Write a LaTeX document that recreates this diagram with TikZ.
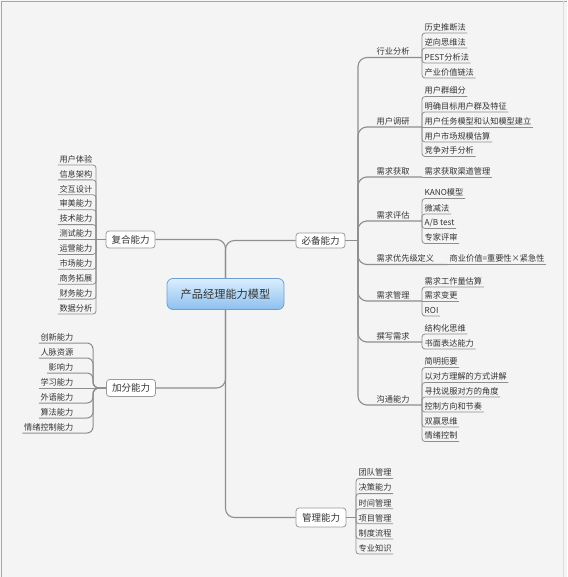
\documentclass[tikz,border=0pt]{standalone}
\usepackage{fontspec}
\setmainfont{Noto Sans CJK SC}
\definecolor{bg}{HTML}{F4F4F4}
\definecolor{lin}{HTML}{8E8E8E}
\definecolor{txt}{HTML}{333333}
\definecolor{boxline}{HTML}{9A9A9A}
\definecolor{frame}{HTML}{A8A8A8}
\definecolor{blueT}{HTML}{DCEEFE}
\definecolor{blueB}{HTML}{8CC0EF}
\definecolor{blueL}{HTML}{6E9FD2}
\tikzset{
  leaf/.style={font=\fontsize{8.2}{9}\selectfont, text=txt, inner xsep=1.5pt, inner ysep=1pt, text height=6.5pt, text depth=1.5pt},
  rleaf/.style={leaf, anchor=south west},
  lleaf/.style={leaf, anchor=south east},
  catnode/.style={leaf, anchor=south west},
  mainbox/.style={draw=boxline, fill=white, rounded corners=3pt, line width=0.8pt, font=\fontsize{9.5}{11}\selectfont, text=txt, inner sep=0pt, minimum width=49pt, minimum height=17pt},
  rootbox/.style={draw=blueL, top color=blueT, bottom color=blueB, rounded corners=6pt, line width=0.8pt, font=\fontsize{11.2}{13}\selectfont, text=txt, inner sep=0pt, minimum width=117pt, minimum height=31pt},
  conn/.style={draw=lin, line width=1.1pt, rounded corners=9pt},
  jconn/.style={draw=lin, line width=1.0pt, rounded corners=6pt},
  lconn/.style={draw=lin, line width=0.8pt, rounded corners=3pt}
}
\begin{document}
\begin{tikzpicture}[x=1pt,y=-1pt]
\useasboundingbox (0,0) rectangle (567,577);
\fill[bg] (0,0) rectangle (567,577);
\draw[frame, line width=1.2pt] (1.5,577) -- (1.5,1.5) -- (567,1.5);
\draw[frame!40, line width=0.8pt] (563,1.5) -- (563,577);

% root and main boxes
\node[rootbox] (root) at (225.5,294) {产品经理能力模型};
\node[mainbox] (fuhe) at (130.5,239.5) {复合能力};
\node[mainbox] (jiafen) at (131,388) {加分能力};
\node[mainbox, minimum height=15pt] (bibei) at (320.5,240.5) {必备能力};
\node[mainbox, minimum height=19pt, minimum width=50pt] (guanli) at (321,517.5) {管理能力};

\draw[conn] (root.north) |- (fuhe.east);
\draw[conn] (root.north) |- (bibei.west);
\draw[conn] (root.south) |- (jiafen.east);
\draw[conn] (root.south) |- (guanli.west);

% ---------- 必备能力 ----------
\coordinate (bsp) at (358,240.5);
\draw[conn] (bibei.east) -- (bsp);

\node[catnode] (c1) at (375,57.5) {行业分析};
\node[catnode] (c2) at (375,127) {用户调研};
\node[catnode] (c3) at (375,177) {需求获取};
\node[catnode] (c4) at (375,221) {需求评估};
\node[catnode] (c5) at (375,264.5) {需求优先级定义};
\node[catnode] (c6) at (375,301) {需求管理};
\node[catnode] (c7) at (375,342) {撰写需求};
\node[catnode] (c8) at (375,405) {沟通能力};

\coordinate (b1) at (422,57.5);
\coordinate (b2) at (422,127);
\coordinate (b3) at (422,177);
\coordinate (b4) at (422,221);
\coordinate (b5) at (447,264.5);
\coordinate (b6) at (422,301);
\coordinate (b7) at (422,342);
\coordinate (b8) at (422,405);

\foreach \i in {1,2,3,4,5,6,7,8}{
  \draw[conn] (bsp) |- (c\i.south west) -- (b\i);
}

% 行业分析
\node[rleaf] (l11) at (423,33) {历史推断法};
\node[rleaf] (l12) at (423,48) {逆向思维法};
\node[rleaf] (l13) at (423,63) {PEST分析法};
\node[rleaf] (l14) at (423,78) {产业价值链法};
\foreach \j in {1,2,3,4}{ \draw[lconn] (b1) |- (l1\j.south east); }

% 用户调研
\node[rleaf] (l21) at (423,96.5) {用户群细分};
\node[rleaf] (l22) at (423,112) {明确目标用户群及特征};
\node[rleaf] (l23) at (423,127) {用户任务模型和认知模型建立};
\node[rleaf] (l24) at (423,142) {用户市场规模估算};
\node[rleaf] (l25) at (423,156.5) {竞争对手分析};
\foreach \j in {1,2,4,5}{ \draw[lconn] (b2) |- (l2\j.south east); }
\draw[lconn] (b2) -- (l23.south east);

% 需求获取
\node[rleaf] (l31) at (423,177) {需求获取渠道管理};
\draw[lconn] (b3) -- (l31.south east);

% 需求评估
\node[rleaf] (l41) at (423,198.5) {KANO模型};
\node[rleaf] (l42) at (423,214) {微减法};
\node[rleaf] (l43) at (423,228.5) {A/B test};
\node[rleaf] (l44) at (423,243.5) {专家评审};
\foreach \j in {1,2,3,4}{ \draw[lconn] (b4) |- (l4\j.south east); }

% 需求优先级定义
\node[rleaf] (l51) at (448,264.5) {商业价值=重要性×紧急性};
\draw[lconn] (b5) -- (l51.south east);

% 需求管理
\node[rleaf] (l61) at (423,287) {需求工作量估算};
\node[rleaf] (l62) at (423,301) {需求变更};
\node[rleaf] (l63) at (423,316) {ROI};
\draw[lconn] (b6) |- (l61.south east);
\draw[lconn] (b6) -- (l62.south east);
\draw[lconn] (b6) |- (l63.south east);

% 撰写需求
\node[rleaf] (l71) at (423,334) {结构化思维};
\node[rleaf] (l72) at (423,349) {书面表达能力};
\foreach \j in {1,2}{ \draw[lconn] (b7) |- (l7\j.south east); }

% 沟通能力
\node[rleaf] (l81) at (423,367.5) {简明扼要};
\node[rleaf] (l82) at (423,382.5) {以对方理解的方式讲解};
\node[rleaf] (l83) at (423,397) {寻找说服对方的角度};
\node[rleaf] (l84) at (423,412) {控制方向和节奏};
\node[rleaf] (l85) at (423,427) {双赢思维};
\node[rleaf] (l86) at (423,441.5) {情绪控制};
\foreach \j in {1,...,6}{ \draw[lconn] (b8) |- (l8\j.south east); }

% ---------- 复合能力 ----------
\coordinate (fsp) at (96,239.5);
\draw[conn] (fuhe.west) -- (fsp);
\node[lleaf] (f1) at (94,165) {用户体验};
\node[lleaf] (f2) at (94,179.9) {信息架构};
\node[lleaf] (f3) at (94,194.8) {交互设计};
\node[lleaf] (f4) at (94,209.7) {审美能力};
\node[lleaf] (f5) at (94,224.6) {技术能力};
\node[lleaf] (f6) at (94,239.5) {测试能力};
\node[lleaf] (f7) at (94,254.4) {运营能力};
\node[lleaf] (f8) at (94,269.3) {市场能力};
\node[lleaf] (f9) at (94,284.2) {商务拓展};
\node[lleaf] (f10) at (94,299.1) {财务能力};
\node[lleaf] (f11) at (94,314) {数据分析};
\foreach \j in {1,2,3,4,5,7,8,9,10,11}{ \draw[lconn] (fsp) |- (f\j.south west); }
\draw[lconn] (fsp) -- (f6.south west);

% ---------- 加分能力 ----------
\coordinate (jsp) at (93,388);
\node[lleaf] (j1) at (75,343) {创新能力};
\node[lleaf] (j2) at (75,358) {人脉资源};
\node[lleaf] (j3) at (75,373) {影响力};
\node[lleaf] (j4) at (75,388) {学习能力};
\node[lleaf] (j5) at (75,403) {外语能力};
\node[lleaf] (j6) at (75,418) {算法能力};
\node[lleaf] (j7) at (75,433) {情绪控制能力};
\foreach \j in {1,2,3,5,6,7}{ \draw[jconn] (jiafen.west) -- (jsp) |- (j\j.south west); }
\draw[jconn] (jiafen.west) -- (j4.south west);

% ---------- 管理能力 ----------
\coordinate (gsp) at (356,517.5);
\draw[conn] (guanli.east) -- (gsp);
\node[rleaf] (g1) at (357,478.5) {团队管理};
\node[rleaf] (g2) at (357,493.6) {决策能力};
\node[rleaf] (g3) at (357,508.7) {时间管理};
\node[rleaf] (g4) at (357,523.8) {项目管理};
\node[rleaf] (g5) at (357,538.9) {制度流程};
\node[rleaf] (g6) at (357,554) {专业知识};
\foreach \j in {1,...,6}{ \draw[lconn] (gsp) |- (g\j.south east); }
\end{tikzpicture}
\end{document}
